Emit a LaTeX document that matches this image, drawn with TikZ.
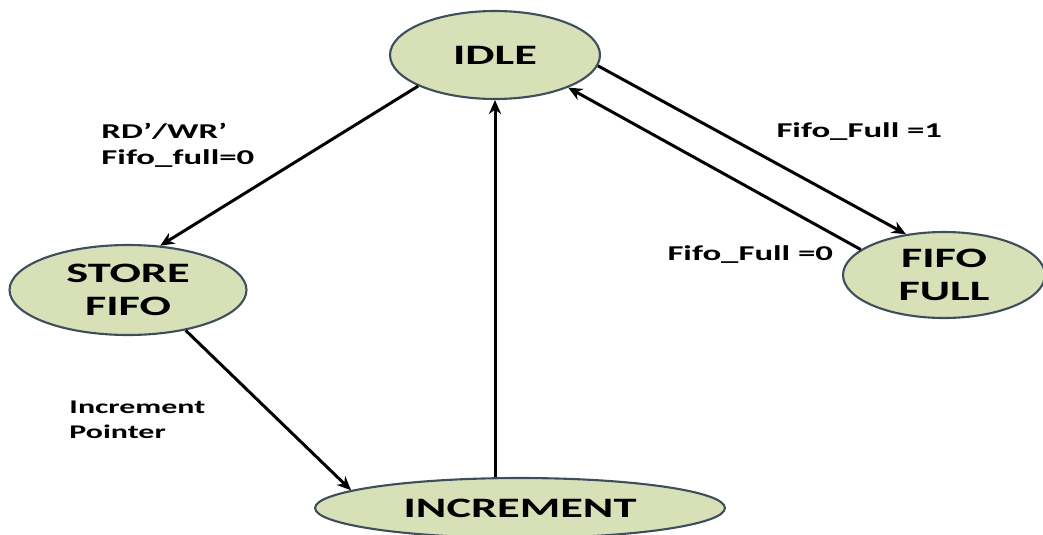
\documentclass[tikz,border=0pt]{standalone}
\usepackage{fontspec}
\setmainfont{Carlito}
\newfontfamily\wide[FakeStretch=1.65]{Carlito}
\usetikzlibrary{shapes.geometric, arrows.meta}
\definecolor{stfill}{RGB}{216,224,184}
\definecolor{stline}{RGB}{62,78,90}

\begin{document}
\begin{tikzpicture}[x=0.02cm, y=-0.02cm, >={Stealth[length=8pt, width=7pt]}, line width=1.7pt,
  state/.style={ellipse, draw=stline, line width=1.2pt, fill=stfill, inner sep=0pt,
    align=center, font=\wide\bfseries\fontsize{16}{19}\selectfont},
  lbl/.style={anchor=west, align=left, inner sep=0pt,
    font=\wide\bfseries\fontsize{12}{15}\selectfont}]
  \useasboundingbox (0,0) rectangle (1043,534);

  % ==================== states ====================
  \node[state, minimum width=4.2cm, minimum height=1.76cm] (idle) at (495,55) {IDLE};
  \node[state, minimum width=4.74cm, minimum height=1.8cm] (store) at (128,290) {STORE\\FIFO};
  \node[state, minimum width=4.04cm, minimum height=1.72cm] (full) at (944,275) {FIFO\\FULL};
  \node[state, minimum width=8.2cm, minimum height=1.2cm] (incr) at (520,508) {INCREMENT};

  % ==================== transitions ====================
  \draw[->] (idle.202) -- (store.54);
  \draw[->] (store.325) -- (incr.174);
  \draw[->] (idle.south |- incr.north) -- (idle.south);
  \draw[->] (idle.354) -- (full.133);
  \draw[->] (full.163) -- (idle.336);

  % ==================== labels ====================
  \node[lbl] (rdwr) at (100,145) {RD’/WR’\\Fifo\_full=0};
  \node[lbl] (full1) at (775,132) {Fifo\_Full =1};
  \node[lbl] (full0) at (666,255) {Fifo\_Full =0};
  \node[lbl, font=\wide\bfseries\fontsize{11}{14}\selectfont] (incptr) at (68,420) {Increment\\Pointer};
\end{tikzpicture}
\end{document}
